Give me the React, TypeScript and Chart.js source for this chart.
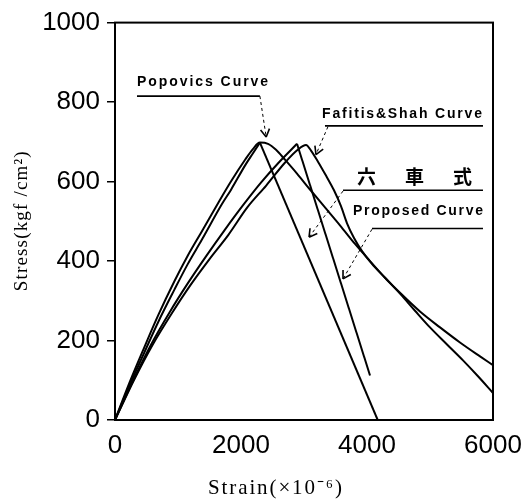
import React, { useEffect, useRef } from "react";
import { Chart, registerables } from "chart.js";

Chart.register(...registerables);

// ---- axes ----
const xTicks = [0, 2000, 4000, 6000];
const yTicks = [0, 200, 400, 600, 800, 1000];

// ---- Popovics curve ----
const popovicsStrain = [0, 230, 460, 690, 943, 1150, 1380, 1656, 1840, 2070, 2185, 2300, 2429, 2556, 2698, 2889, 3095, 3333, 3571, 3810, 4048, 4286, 4524, 4841, 5159, 5476, 5794, 6000];
const popovicsStress = [0, 94, 181, 265, 349, 412, 475, 551, 600, 656, 681, 698, 695, 680, 655, 620, 580, 535, 490, 443, 400, 358, 320, 273, 233, 195, 160, 138];

// ---- 六車式 (ascending + linear descending) ----
const mugurumaAscStrain = [0, 230, 460, 690, 943, 1150, 1380, 1700, 1840, 2070, 2185, 2300];
const mugurumaAscStress = [0, 87, 168, 248, 328, 391, 454, 544, 579, 642, 670, 698];
const mugurumaDescStrain = [2300, 4170];
const mugurumaDescStress = [698, 0];

// ---- Proposed curve ----
const proposedAscStrain = [0, 290, 580, 870, 1160, 1450, 1740, 2030, 2320, 2600, 2889];
const proposedAscStress = [0, 100, 192, 272, 345, 413, 478, 540, 598, 648, 695];
const proposedDescStrain = [2889, 4048];
const proposedDescStress = [695, 112];

// ---- Fafitis & Shah curve ----
const fsStrain = [0, 300, 600, 900, 1200, 1500, 1800, 2100, 2400, 2700, 2900, 3032, 3111, 3222, 3349, 3476, 3587, 3683, 3794, 3921, 4079, 4286, 4524, 4762, 5000, 5270, 5524, 5762, 6000];
const fsStress = [0, 100, 190, 268, 340, 405, 466, 535, 590, 648, 680, 692, 678, 650, 615, 578, 538, 495, 458, 425, 393, 358, 318, 275, 233, 190, 150, 110, 68];

const toPts = (xs: number[], ys: number[]) => xs.map((x, i) => ({ x, y: ys[i] }));

// ---- annotation labels (positions in data units) ----
const LATIN_FONT = "bold 14px 'Liberation Sans', Arial, sans-serif";
const CJK_FONT = "bold 19px 'Noto Sans CJK JP', 'Noto Sans CJK SC', sans-serif";
const notes = [
  { text: "Popovics Curve", font: LATIN_FONT, x0: 349, x1: 2429, y: 850, ul: [349, 2300, 815], from: [2300, 815], tip: [2400, 712] },
  { text: "Fafitis&Shah Curve", font: LATIN_FONT, x0: 3286, x1: 5825, y: 770, ul: [3333, 5841, 740], from: [3380, 738], tip: [3190, 668] },
  { text: "六車式", font: CJK_FONT, x0: 3841, x1: 5667, y: 612, ul: [3619, 5841, 578], from: [3619, 576], tip: [3080, 460] },
  { text: "Proposed Curve", font: LATIN_FONT, x0: 3778, x1: 5841, y: 525, ul: [4079, 5841, 482], from: [4079, 480], tip: [3619, 355] },
];

const xTitle = "Strain(×10⁻⁶)";
const yTitle = "Stress(kgf /cm²)";

function spacedText(ctx: CanvasRenderingContext2D, text: string, x0: number, x1: number, y: number) {
  const n = Array.from(text).length;
  (ctx as any).letterSpacing = "0px";
  const w = ctx.measureText(text).width;
  const gap = n > 1 ? (x1 - x0 - w) / (n - 1) : 0;
  (ctx as any).letterSpacing = `${gap}px`;
  ctx.fillText(text, x0, y);
  (ctx as any).letterSpacing = "0px";
}

const overlay = {
  id: "overlay",
  afterDraw(chart: any) {
    const ctx: CanvasRenderingContext2D = chart.ctx;
    const { left, right, top, bottom } = chart.chartArea;
    const xs = chart.scales.x;
    const ys = chart.scales.y;
    const px = (v: number) => xs.getPixelForValue(v);
    const py = (v: number) => ys.getPixelForValue(v);
    ctx.save();
    // frame
    ctx.strokeStyle = "#000";
    ctx.lineWidth = 2;
    ctx.strokeRect(left, top, right - left, bottom - top);

    // annotations
    ctx.fillStyle = "#000";
    for (const n of notes) {
      ctx.font = n.font;
      ctx.textAlign = "left";
      ctx.textBaseline = "middle";
      spacedText(ctx, n.text, px(n.x0), px(n.x1), py(n.y));
      // underline
      ctx.setLineDash([]);
      ctx.lineWidth = 1.6;
      ctx.beginPath();
      ctx.moveTo(px(n.ul[0]), py(n.ul[2]));
      ctx.lineTo(px(n.ul[1]), py(n.ul[2]));
      ctx.stroke();
      // leader
      const fx = px(n.from[0]), fy = py(n.from[1]);
      const tx = px(n.tip[0]), ty = py(n.tip[1]);
      ctx.lineWidth = 1;
      ctx.setLineDash([3, 3]);
      ctx.beginPath();
      ctx.moveTo(fx, fy);
      ctx.lineTo(tx, ty);
      ctx.stroke();
      // arrowhead (open V)
      ctx.setLineDash([]);
      ctx.lineWidth = 1.6;
      const dx = fx - tx, dy = fy - ty;
      const len = Math.hypot(dx, dy);
      const ux = dx / len, uy = dy / len;
      const a = (30 * Math.PI) / 180;
      const L = 9;
      ctx.beginPath();
      for (const s of [1, -1]) {
        const rx = ux * Math.cos(s * a) - uy * Math.sin(s * a);
        const ry = ux * Math.sin(s * a) + uy * Math.cos(s * a);
        ctx.moveTo(tx, ty);
        ctx.lineTo(tx + rx * L, ty + ry * L);
      }
      ctx.stroke();
    }

    // axis titles
    ctx.font = "21px 'Liberation Serif', 'Times New Roman', serif";
    ctx.textAlign = "left";
    ctx.textBaseline = "alphabetic";
    spacedText(ctx, xTitle, left + 93, left + 227, 494);

    ctx.save();
    ctx.translate(22, (top + bottom) / 2);
    ctx.rotate(-Math.PI / 2);
    ctx.font = "19px 'Liberation Serif', 'Times New Roman', serif";
    ctx.textBaseline = "middle";
    spacedText(ctx, yTitle, -70, 70, 0);
    ctx.restore();
    ctx.restore();
  },
};

export default function App() {
  const ref = useRef<HTMLCanvasElement>(null);
  useEffect(() => {
    const canvas = ref.current;
    if (!canvas) return;
    const line = (data: any[], smooth: boolean) => ({
      data,
      showLine: true,
      borderColor: "#000",
      backgroundColor: "#000",
      borderWidth: 2,
      pointRadius: 0,
      fill: false,
      cubicInterpolationMode: smooth ? "monotone" : "default",
      tension: 0,
    });
    const tickFont = { family: "'Liberation Sans', Arial, sans-serif", size: 26 };
    const chart = new Chart(canvas, {
      type: "scatter",
      data: {
        datasets: [
          line(toPts(popovicsStrain, popovicsStress), true),
          line(toPts(mugurumaAscStrain, mugurumaAscStress), true),
          line(toPts(mugurumaDescStrain, mugurumaDescStress), false),
          line(toPts(proposedAscStrain, proposedAscStress), true),
          line(toPts(proposedDescStrain, proposedDescStress), false),
          line(toPts(fsStrain, fsStress), true),
        ] as any,
      },
      options: {
        responsive: false,
        animation: false,
        devicePixelRatio: 1,
        layout: { padding: { left: 0, right: 37, top: 20, bottom: 0 } },
        plugins: { legend: { display: false }, tooltip: { enabled: false } },
        scales: {
          x: {
            type: "linear",
            min: 0,
            max: 6000,
            afterBuildTicks: (s: any) => {
              s.ticks = xTicks.map((v) => ({ value: v }));
            },
            afterFit: (s: any) => {
              s.height = 79;
            },
            grid: { display: false },
            border: { display: false },
            ticks: {
              color: "#000",
              font: tickFont,
              padding: 2,
              maxRotation: 0,
              autoSkip: false,
              callback: (v: any) => String(v),
            },
          },
          y: {
            type: "linear",
            min: 0,
            max: 1000,
            afterBuildTicks: (s: any) => {
              s.ticks = yTicks.map((v) => ({ value: v }));
            },
            afterFit: (s: any) => {
              s.width = 115;
            },
            grid: { display: true, drawOnChartArea: false, drawTicks: true, tickLength: 8, color: "#000", lineWidth: 1.5 },
            border: { display: false },
            ticks: {
              color: "#000",
              font: tickFont,
              padding: 7,
              autoSkip: false,
              callback: (v: any) => String(v),
            },
          },
        },
      } as any,
      plugins: [overlay],
    });
    return () => chart.destroy();
  }, []);
  return (
    <div style={{ position: "fixed", left: 0, top: 0, width: 530, height: 499, background: "#fff" }}>
      <canvas ref={ref} width={530} height={499} style={{ display: "block" }} />
    </div>
  );
}
